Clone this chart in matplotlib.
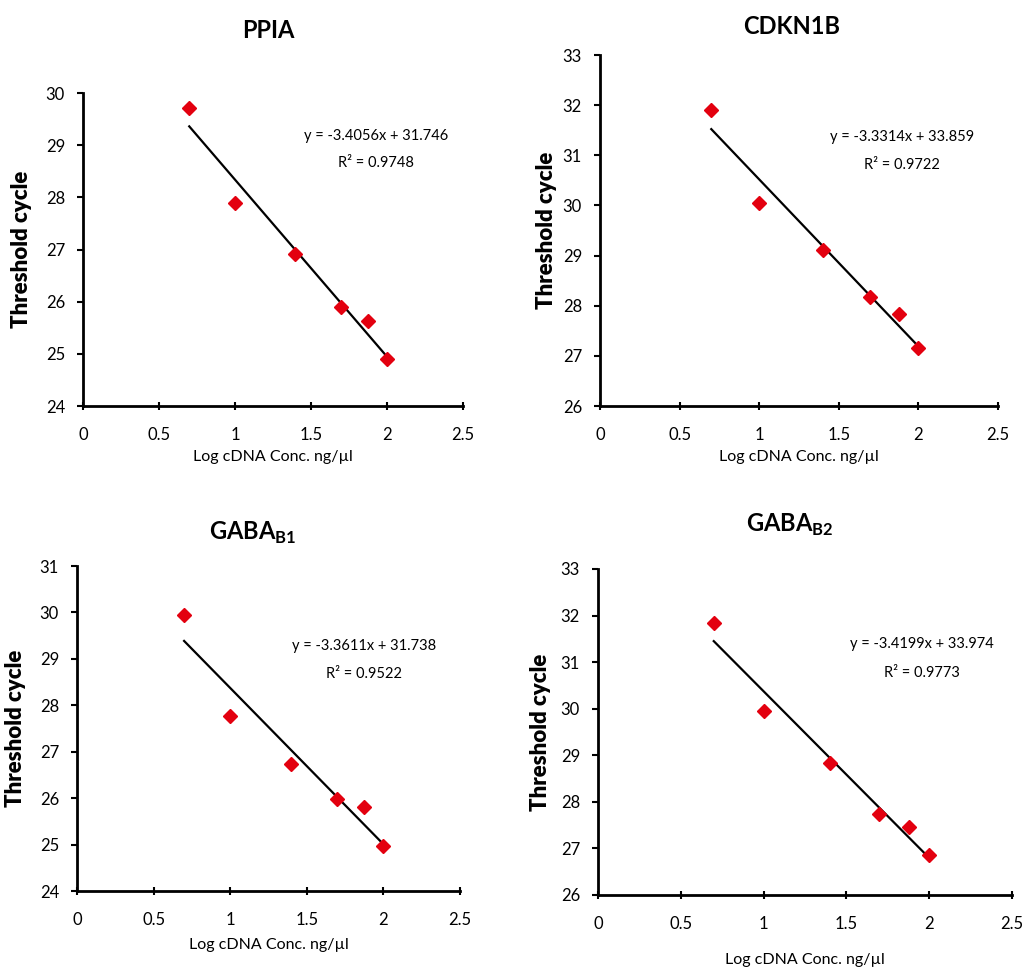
import numpy as np
import matplotlib
matplotlib.use('Agg')
import matplotlib.pyplot as plt

plt.rcParams['font.family'] = ['Lato', 'DejaVu Sans']
plt.rcParams['mathtext.fontset'] = 'custom'
plt.rcParams['mathtext.rm'] = 'Lato:bold'
plt.rcParams['mathtext.bf'] = 'Lato:bold'

# log of cDNA concentration (5, 10, 25, 50, 75, 100 ng/ul)
log_conc = [0.699, 1.0, 1.398, 1.699, 1.875, 2.0]

genes = ['PPIA', 'CDKN1B', r'GABA$_{\mathrm{B1}}$', r'GABA$_{\mathrm{B2}}$']
ct_ppia = [29.72, 27.90, 26.92, 25.90, 25.63, 24.90]
ct_cdkn1b = [31.90, 30.05, 29.12, 28.17, 27.83, 27.15]
ct_gabab1 = [29.95, 27.78, 26.74, 25.98, 25.82, 24.98]
ct_gabab2 = [31.84, 29.95, 28.84, 27.73, 27.47, 26.86]
# equations as printed on the chart
slopes = [-3.4056, -3.3314, -3.3611, -3.4199]
intercepts = [31.746, 33.859, 31.738, 33.974]
r2 = [0.9748, 0.9722, 0.9522, 0.9773]
ylims = [(24, 30), (26, 33), (24, 31), (26, 33)]

W, H = 1028, 971
fig = plt.figure(figsize=(W/100, H/100), dpi=100)

# pixel boxes: left, top, right, bottom
boxes = [(83, 93, 463, 406), (600, 55, 998, 406), (77, 566, 460, 891), (598, 569, 1012, 895)]
title_pos = [(268, 30), (792, 27), (253, 533), (790, 525)]
eq_pos = [(0.771, 0.862, 0.776), (0.759, 0.767, 0.687), (0.749, 0.755, 0.669), (0.783, 0.771, 0.682)]
ylabpad = [10, 4, 10, 7]
xlabpad = [5, 5, 7, 15]

cts = [ct_ppia, ct_cdkn1b, ct_gabab1, ct_gabab2]
for i in range(4):
    l, t, r, b = boxes[i]
    ax = fig.add_axes([l/W, 1-b/H, (r-l)/W, (b-t)/H])
    ax.plot(log_conc, cts[i], 'D', color='#e3000f', markersize=7, zorder=3)
    # linear trendline fitted to the points
    k, c = np.polyfit(log_conc, cts[i], 1)
    xx = np.array([log_conc[0], log_conc[-1]])
    ax.plot(xx, k*xx + c, color='black', lw=1.6, zorder=2)
    ax.set_xlim(0, 2.5)
    ax.set_ylim(*ylims[i])
    ax.set_xticks(np.arange(0, 2.51, 0.5))
    ax.set_xticklabels(['0', '0.5', '1', '1.5', '2', '2.5'])
    ax.set_yticks(range(ylims[i][0], ylims[i][1]+1))
    for s in ['top', 'right']:
        ax.spines[s].set_visible(False)
    for s in ['left', 'bottom']:
        ax.spines[s].set_linewidth(2)
    ax.tick_params(axis='x', direction='inout', length=6, width=1.5, pad=12, labelsize=12)
    ax.tick_params(axis='y', direction='out', length=4, width=1.5, pad=9, labelsize=12)
    ax.set_xlabel('Log cDNA Conc. ng/\u00b5l', fontsize=11.5, labelpad=xlabpad[i])
    ax.set_ylabel('Threshold cycle', fontsize=16, fontweight='heavy', labelpad=ylabpad[i])
    ex, ey, ry = eq_pos[i]
    ax.text(ex, ey, 'y = %.4fx + %.3f' % (slopes[i], intercepts[i]), transform=ax.transAxes,
            ha='center', va='center', fontsize=10.5)
    ax.text(ex, ry, 'R\u00b2 = %.4f' % r2[i], transform=ax.transAxes,
            ha='center', va='center', fontsize=10.5)
    tx, ty = title_pos[i]
    fig.text(tx/W, 1-ty/H, genes[i], ha='center', va='center', fontsize=17, fontweight='bold')

fig.savefig('out.png', dpi=100)
